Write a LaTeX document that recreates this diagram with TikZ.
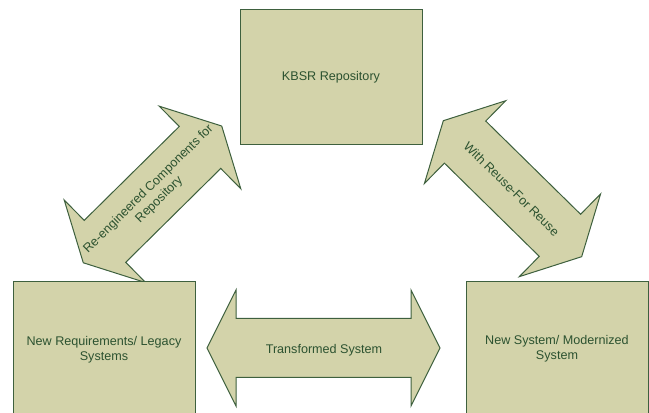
\documentclass[tikz,border=0pt]{standalone}
\usepackage{fontspec}
\setmainfont{Liberation Sans}
\definecolor{boxfill}{RGB}{211,211,170}
\definecolor{boxline}{RGB}{62,96,62}
\definecolor{boxtext}{RGB}{44,82,48}
\tikzset{
  shapestyle/.style={fill=boxfill, draw=boxline, line width=1pt, line join=miter},
  boxnode/.style={shapestyle, rectangle, minimum width=182pt, minimum height=135pt,
    inner sep=0pt, align=center, text=boxtext, font=\fontsize{12.6}{15.2}\selectfont},
  labelnode/.style={align=center, text=boxtext, font=\fontsize{12.6}{15.2}\selectfont, inner sep=0pt},
  pics/dblarrow/.style args={#1/#2}{code={
    \path[shapestyle] (-#1,0) -- (-#1+#2,58) -- (-#1+#2,29.5) -- (#1-#2,29.5) -- (#1-#2,58)
      -- (#1,0) -- (#1-#2,-58) -- (#1-#2,-29.5) -- (-#1+#2,-29.5) -- (-#1+#2,-58) -- cycle;
  }}
}
\begin{document}
\begin{tikzpicture}[x=1pt,y=1pt]
  \useasboundingbox (0,0) rectangle (649,413);
  \clip (0,0) rectangle (649,413);
  % double arrows
  \pic[rotate=44.65] at (152.5,218.6) {dblarrow={97.3/30.5}};
  \pic[rotate=-44.5] at (512.5,224.3) {dblarrow={97/30.5}};
  \pic at (323.5,65) {dblarrow={116.5/29}};
  % boxes
  \node[boxnode] (kbsr) at (331,335.5) {KBSR Repository};
  \node[boxnode] (legacy) at (104,63.5) {New Requirements/ Legacy\\Systems};
  \node[boxnode] (newsys) at (557,64) {New System/ Modernized\\System};
  % arrow labels
  \node[labelnode, rotate=44.65] (reeng) at (154,218.5) {Re-engineered Components for\\Repository};
  \node[labelnode, rotate=-44.5] (reuse) at (511.7,224) {With Reuse-For Reuse};
  \node[labelnode] (trans) at (324,63) {Transformed System};
\end{tikzpicture}
\end{document}
